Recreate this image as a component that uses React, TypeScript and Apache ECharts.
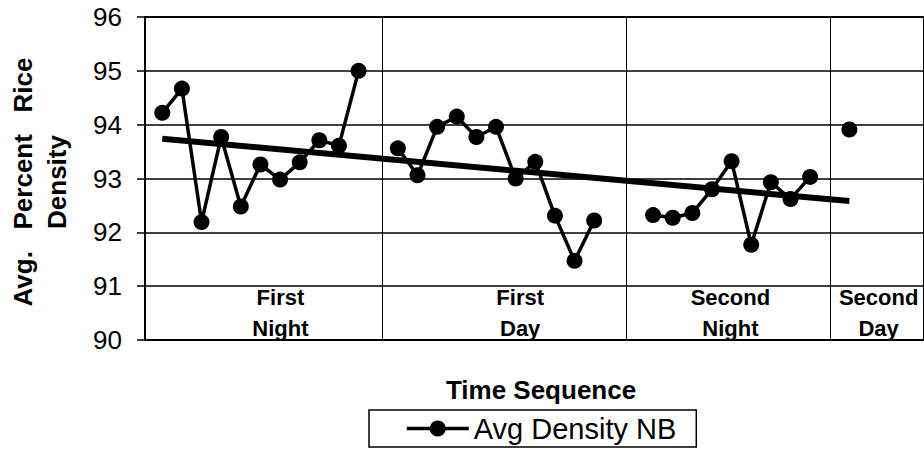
import React, { useEffect, useRef } from "react";
import * as echarts from "echarts";

// ---- data ----
const firstNight = [94.22, 94.67, 92.19, 93.77, 92.48, 93.26, 92.98, 93.3, 93.71, 93.61, 95.0];
const firstDay = [93.56, 93.06, 93.96, 94.15, 93.77, 93.96, 93.0, 93.31, 92.31, 91.47, 92.22];
const secondNight = [92.32, 92.27, 92.36, 92.8, 93.32, 91.77, 92.93, 92.62, 93.03];
const secondDay = [93.91];
const groupStarts = [0, 12, 25, 35];
const groupNames = ["First\nNight", "First\nDay", "Second\nNight", "Second\nDay"];
const groupLabelX = [6.02, 18.23, 28.94, 36.49];
const groupLabelY = 90.5;
const dividerX = [11.21, 23.64, 34.05];
const trendX = [0, 35];
const trendY = [93.74, 92.58];
const yMin = 90;
const yMax = 96;
const yInterval = 1;
const xMin = -0.88;
const xMax = 38.8;
const seriesName = "Avg Density NB";
const xTitle = "Time Sequence";
const yTitle = "Avg.   Percent   Rice\nDensity";

const FONT = "'Liberation Sans', Arial, Helvetica, sans-serif";

export default function App() {
  const ref = useRef<HTMLDivElement>(null);

  useEffect(() => {
    if (!ref.current) return;
    const chart = echarts.init(ref.current, undefined, { renderer: "svg" });

    const groups = [firstNight, firstDay, secondNight, secondDay];
    const mainData: any[] = [];
    groups.forEach((g, gi) => {
      g.forEach((v, i) => mainData.push([groupStarts[gi] + i, v]));
      mainData.push([groupStarts[gi] + g.length, "-"]);
    });

    const trendData = trendX.map((x, i) => [x, trendY[i]]);

    chart.setOption({
      animation: false,
      backgroundColor: "#fff",
      textStyle: { fontFamily: FONT, color: "#000" },
      grid: {
        left: 145,
        right: -3,
        top: 17,
        bottom: 109,
        show: true,
        borderColor: "#000",
        borderWidth: 2,
        containLabel: false,
      },
      xAxis: {
        type: "value",
        min: xMin,
        max: xMax,
        axisLine: { show: false },
        axisTick: { show: false },
        axisLabel: { show: false },
        splitLine: { show: false },
      },
      yAxis: {
        type: "value",
        min: yMin,
        max: yMax,
        interval: yInterval,
        axisLine: { show: true, onZero: false, lineStyle: { color: "#000", width: 2 } },
        axisTick: { show: true, inside: false, length: 8, lineStyle: { color: "#000", width: 1.5 } },
        axisLabel: { margin: 23, fontSize: 26, color: "#000", fontFamily: FONT },
        splitLine: { show: true, lineStyle: { color: "#000", width: 1.5 } },
      },
      legend: {
        data: [seriesName],
        left: 369,
        top: 410,
        orient: "horizontal",
        padding: [4, 20, 4, 36],
        borderColor: "#000",
        borderWidth: 1.5,
        itemWidth: 62,
        itemHeight: 20,
        itemStyle: { color: "#000" },
        lineStyle: { color: "#000", width: 3.5 },
        textStyle: { fontSize: 29, color: "#000", fontFamily: FONT, lineHeight: 29 },
      },
      graphic: [
        {
          type: "text",
          x: 40,
          y: 182,
          rotation: Math.PI / 2,
          style: {
            text: yTitle,
            font: `bold 26px ${FONT}`,
            fill: "#000",
            align: "center",
            verticalAlign: "middle",
            lineHeight: 34,
          },
        },
        {
          type: "text",
          x: 541,
          y: 390,
          style: {
            text: xTitle,
            font: `bold 26px ${FONT}`,
            fill: "#000",
            align: "center",
            verticalAlign: "middle",
          },
        },
      ],
      series: [
        {
          name: "trend",
          type: "line",
          data: trendData,
          showSymbol: false,
          symbol: "none",
          lineStyle: { color: "#000", width: 6 },
          z: 3,
          silent: true,
          markLine: {
            silent: true,
            symbol: ["none", "none"],
            label: { show: false },
            lineStyle: { type: "solid", color: "#000", width: 1 },
            data: dividerX.map((x) => ({ xAxis: x })),
          },
        },
        {
          name: seriesName,
          type: "line",
          data: mainData,
          connectNulls: false,
          symbol: "circle",
          symbolSize: 16,
          showSymbol: true,
          lineStyle: { color: "#000", width: 3.5 },
          itemStyle: { color: "#000" },
          z: 5,
        },
        {
          name: "labels",
          type: "scatter",
          data: groupLabelX.map((x, i) => ({ value: [x, groupLabelY], name: groupNames[i] })),
          symbolSize: 2,
          itemStyle: { color: "rgba(0,0,0,0)" },
          silent: true,
          label: {
            show: true,
            position: "inside",
            formatter: "{b}",
            fontSize: 22,
            fontWeight: "bold",
            lineHeight: 31,
            color: "#000",
            opacity: 1,
            fontFamily: FONT,
            align: "center",
            verticalAlign: "middle",
          },
          z: 6,
        },
      ],
    });

    return () => chart.dispose();
  }, []);

  return (
    <div
      ref={ref}
      style={{ position: "absolute", left: 0, top: 0, width: 924, height: 449, background: "#fff" }}
    />
  );
}
